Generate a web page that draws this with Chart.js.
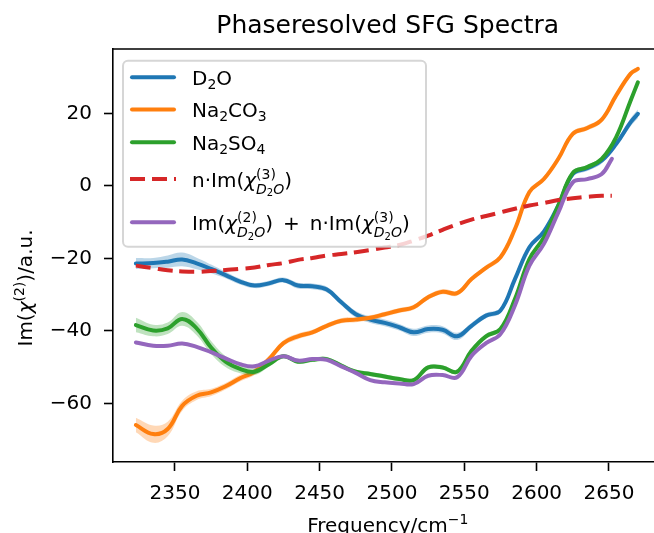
<!DOCTYPE html>
<html>
<head>
<meta charset="utf-8">
<script src="https://cdn.jsdelivr.net/npm/chart.js@4.4.1/dist/chart.umd.min.js"></script>
<style>
  html, body { margin: 0; padding: 0; background: #fff; overflow: hidden; }
  #wrap { width: 654px; height: 533px; overflow: hidden; }
</style>
</head>
<body>
<div id="wrap"><canvas id="grafico" width="672" height="533"></canvas></div>
<script>
const FONT = '"DejaVu Sans", sans-serif';

// frequencies (cm^-1)
const freqs = [2323, 2335, 2345, 2355, 2365, 2375, 2385, 2395, 2405, 2415, 2425, 2435,
  2445, 2455, 2465, 2475, 2485, 2495, 2505, 2515, 2525, 2535, 2545, 2555,
  2565, 2575, 2585, 2595, 2605, 2615, 2625, 2635, 2645, 2655, 2665, 2670];
const freqsModel = [2323, 2335, 2345, 2355, 2365, 2375, 2385, 2395, 2405, 2415, 2425, 2435,
  2445, 2455, 2465, 2475, 2485, 2495, 2505, 2515, 2525, 2535, 2545, 2555,
  2565, 2575, 2585, 2595, 2605, 2615, 2625, 2635, 2645, 2652];

const d2o = [-21.4, -21.3, -20.9, -20.3, -21.4, -22.9, -24.6, -26.4, -27.5, -26.9, -26.0, -27.5,
  -27.7, -28.6, -32.1, -35.4, -36.9, -37.8, -39.0, -40.4, -39.5, -39.7, -41.5, -38.6,
  -35.8, -34.4, -25.7, -16.9, -12.6, -5.4, 3.3, 4.9, 7.0, 11.6, 17.6, 19.9];
const d2oErr = [1.5, 1.4, 1.7, 1.9, 1.6, 1.2, 0.9, 0.8, 0.7, 0.7, 0.7, 0.8,
  0.8, 0.8, 0.8, 0.9, 0.9, 0.9, 0.9, 1.0, 1.0, 1.0, 1.0, 0.8,
  0.7, 0.7, 0.7, 0.7, 0.7, 0.7, 0.8, 0.8, 0.8, 0.9, 1.1, 1.2];

const na2co3 = [-66.0, -68.5, -67.1, -60.7, -57.9, -57.0, -55.3, -53.1, -51.3, -47.8, -43.4, -41.5,
  -40.4, -38.6, -37.2, -36.9, -36.4, -35.4, -34.4, -33.5, -30.7, -29.2, -29.6, -25.7,
  -22.6, -19.7, -11.9, -1.7, 1.9, 7.5, 14.4, 16.0, 18.3, 25.0, 31.0, 32.3];
const na2co3Err = [2.0, 2.4, 2.0, 1.4, 1.2, 1.0, 0.9, 0.9, 0.9, 0.9, 0.8, 0.8,
  0.7, 0.7, 0.7, 0.7, 0.7, 0.7, 0.7, 0.7, 0.7, 0.7, 0.7, 0.7,
  0.7, 0.7, 0.7, 0.7, 0.7, 0.7, 0.7, 0.7, 0.7, 0.7, 0.7, 0.7];

const na2so4 = [-38.4, -39.9, -39.3, -36.7, -39.3, -44.6, -48.5, -50.5, -51.3, -49.2, -47.0, -48.5,
  -48.0, -47.8, -49.6, -51.3, -51.9, -52.6, -53.3, -53.6, -50.1, -50.1, -51.3, -45.5,
  -41.5, -39.5, -31.2, -20.2, -14.2, -5.4, 3.6, 5.2, 7.5, 13.5, 23.6, 28.6];
const na2so4Err = [2.0, 1.6, 1.6, 1.9, 1.9, 1.8, 1.5, 1.2, 0.9, 0.7, 0.6, 0.6,
  0.6, 0.6, 0.6, 0.6, 0.6, 0.6, 0.6, 0.6, 0.6, 0.6, 0.6, 0.6,
  0.6, 0.6, 0.6, 0.6, 0.6, 0.6, 0.6, 0.6, 0.6, 0.6, 0.6, 0.6];

// n·Im(chi3) and Im(chi2) + n·Im(chi3)
const chi3 = [-22.0, -22.7, -23.3, -23.6, -23.7, -23.5, -23.2, -22.9, -22.5, -21.8, -21.3, -20.4,
  -19.9, -19.2, -18.8, -18.3, -17.7, -17.0, -16.3, -15.1, -13.7, -12.1, -10.6, -9.3,
  -8.3, -7.3, -6.3, -5.4, -4.7, -3.9, -3.4, -3.0, -2.7, -2.7];
const chiSum = [-43.2, -44.1, -44.1, -43.5, -44.4, -45.9, -47.6, -49.2, -49.8, -48.2, -47.0, -48.2,
  -47.8, -48.0, -49.8, -51.6, -53.6, -54.2, -54.5, -54.7, -52.4, -52.2, -52.8, -46.9,
  -43.4, -40.9, -33.0, -22.0, -16.0, -7.3, 1.0, 1.9, 3.3, 7.5];

const xTicks = [2350, 2400, 2450, 2500, 2550, 2600, 2650];
const yTicks = [-60, -40, -20, 0, 20];

const colors = ['#1f77b4', '#ff7f0e', '#2ca02c', '#d62728', '#9467bd'];
const bandRgb = ['31,119,180', '255,127,14', '44,160,44'];

// rich text pieces (sub/superscripts) for the labels
const chiTerm = (n) => [
  { t: 'χ', it: true },
  { stack: [
    [{ t: '(' + n + ')', s: 14, dy: -8 }],
    [{ t: 'D', s: 14, it: true, dy: 7 }, { t: '2', s: 10, dy: 9.5 }, { t: 'O', s: 14, it: true, dy: 7 }]
  ] }
];
const legendLabels = [
  [{ t: 'D' }, { t: '2', s: 14, dy: 3.5 }, { t: 'O' }],
  [{ t: 'Na' }, { t: '2', s: 14, dy: 3.5 }, { t: 'CO' }, { t: '3', s: 14, dy: 3.5 }],
  [{ t: 'Na' }, { t: '2', s: 14, dy: 3.5 }, { t: 'SO' }, { t: '4', s: 14, dy: 3.5 }],
  [{ t: 'n·Im(' }].concat(chiTerm(3), [{ t: ')' }]),
  [{ t: 'Im(' }].concat(chiTerm(2), [{ t: ')\u2002+\u2002n·Im(' }], chiTerm(3), [{ t: ')' }])
];
const titleText = 'Phaseresolved SFG Spectra';
const xLabel = [{ t: 'Frequency/cm' }, { t: '−1', s: 14, dy: -8 }];
const yLabel = [{ t: 'Im(' }, { t: 'χ', it: true }, { t: '(2)', s: 14, dy: -8 }, { t: ')/a.u.' }];

function pts(xs, ys, err, sign) {
  return xs.map((x, i) => ({ x: x, y: ys[i] + (err ? sign * err[i] : 0) }));
}

function band(xs, ys, err, rgb, order) {
  const base = { borderColor: 'rgba(0,0,0,0)', borderWidth: 0, pointRadius: 0, order: order, tension: 0.4 };
  return [
    Object.assign({ data: pts(xs, ys, err, 1), fill: false }, base),
    Object.assign({ data: pts(xs, ys, err, -1), fill: '-1', backgroundColor: 'rgba(' + rgb + ',0.3)' }, base)
  ];
}

function line(xs, ys, color, order, dash) {
  return {
    data: pts(xs, ys), borderColor: color, borderWidth: 4,
    borderDash: dash || [], borderCapStyle: dash ? 'butt' : 'round', borderJoinStyle: 'round',
    pointRadius: 0, fill: false, order: order, tension: 0.4
  };
}

// draws a list of text pieces, returns the x where it ends
function drawParts(ctx, parts, x, y, draw) {
  let cx = x;
  for (const p of parts) {
    if (p.stack) {
      let w = 0;
      for (const row of p.stack) w = Math.max(w, drawParts(ctx, row, cx, y, draw) - cx);
      cx += w;
    } else {
      ctx.font = (p.it ? 'italic ' : '') + (p.s || 20) + 'px ' + FONT;
      if (draw) ctx.fillText(p.t, cx, y + (p.dy || 0));
      cx += ctx.measureText(p.t).width;
    }
  }
  return cx;
}

const decor = {
  id: 'decor',
  afterDraw(chart) {
    const ctx = chart.ctx;
    const a = chart.chartArea;
    ctx.save();
    ctx.fillStyle = '#000';
    ctx.textBaseline = 'alphabetic';
    ctx.textAlign = 'left';

    // top + right spines
    ctx.strokeStyle = '#000';
    ctx.lineWidth = 1.6;
    ctx.beginPath();
    ctx.moveTo(a.left, a.top);
    ctx.lineTo(a.right, a.top);
    ctx.lineTo(a.right, a.bottom);
    ctx.stroke();

    // legend
    const lx = 123, ly = 60.7, lw = 303, lh = 186, r = 5;
    ctx.beginPath();
    ctx.roundRect(lx, ly, lw, lh, r);
    ctx.fillStyle = 'rgba(255,255,255,0.8)';
    ctx.fill();
    ctx.strokeStyle = 'rgba(204,204,204,0.8)';
    ctx.lineWidth = 2;
    ctx.stroke();
    const baselines = [85, 117.3, 150, 186.7, 230];
    legendLabels.forEach((lab, i) => {
      const hy = baselines[i] - 7.7;
      ctx.beginPath();
      ctx.strokeStyle = colors[i];
      ctx.lineWidth = 4;
      ctx.setLineDash(i === 3 ? [15, 7] : []);
      ctx.lineCap = i === 3 ? 'butt' : 'round';
      ctx.moveTo(i === 3 ? 130 : 132, hy);
      ctx.lineTo(i === 3 ? 176 : 174, hy);
      ctx.stroke();
      ctx.setLineDash([]);
      ctx.fillStyle = '#000';
      drawParts(ctx, lab, 192, baselines[i], true);
    });

    // title
    ctx.font = '25px ' + FONT;
    ctx.textAlign = 'center';
    ctx.fillText(titleText, (a.left + a.right) / 2, 33.3);
    ctx.textAlign = 'left';

    // x label
    const xw = drawParts(ctx, xLabel, 0, 0, false);
    drawParts(ctx, xLabel, (a.left + a.right) / 2 - xw / 2, 532, true);

    // y label
    const yw = drawParts(ctx, yLabel, 0, 0, false);
    ctx.translate(32, 288);
    ctx.rotate(-Math.PI / 2);
    drawParts(ctx, yLabel, -yw / 2, 0, true);
    ctx.restore();
  }
};

const datasets = [].concat(
  band(freqs, d2o, d2oErr, bandRgb[0], 8),
  [line(freqs, d2o, colors[0], 7)],
  band(freqs, na2co3, na2co3Err, bandRgb[1], 6),
  [line(freqs, na2co3, colors[1], 5)],
  band(freqs, na2so4, na2so4Err, bandRgb[2], 4),
  [line(freqs, na2so4, colors[2], 3)],
  [line(freqsModel, chi3, colors[3], 2, [15, 7])],
  [line(freqsModel, chiSum, colors[4], 1)]
);

const tickFont = { family: FONT, size: 20 };

new Chart(document.getElementById('grafico').getContext('2d'), {
  type: 'line',
  data: { datasets: datasets },
  options: {
    responsive: false,
    animation: false,
    devicePixelRatio: 1,
    events: [],
    layout: { padding: { left: 0, right: 9.5, top: 49, bottom: 0 } },
    plugins: { legend: { display: false }, tooltip: { enabled: false }, title: { display: false } },
    scales: {
      x: {
        type: 'linear',
        min: 2307.2,
        max: 2687,
        afterFit: (s) => { s.height = 71; },
        afterBuildTicks: (s) => { s.ticks = xTicks.map(v => ({ value: v })); },
        grid: { display: true, drawOnChartArea: false, drawTicks: true, tickLength: 9, tickWidth: 1.6, tickColor: '#000' },
        border: { display: true, color: '#000', width: 1.6 },
        ticks: { color: '#000', font: tickFont, padding: 11, maxRotation: 0, autoSkip: false, callback: (v) => String(v) }
      },
      y: {
        type: 'linear',
        min: -76.2,
        max: 37.8,
        afterFit: (s) => { s.width = 113; },
        afterBuildTicks: (s) => { s.ticks = yTicks.map(v => ({ value: v })); },
        grid: { display: true, drawOnChartArea: false, drawTicks: true, tickLength: 9, tickWidth: 1.6, tickColor: '#000' },
        border: { display: true, color: '#000', width: 1.6 },
        ticks: {
          color: '#000', font: tickFont, padding: 12, autoSkip: false,
          callback: (v) => v < 0 ? '\u2212' + Math.abs(v) : String(v)
        }
      }
    }
  },
  plugins: [decor]
});
</script>
</body>
</html>
